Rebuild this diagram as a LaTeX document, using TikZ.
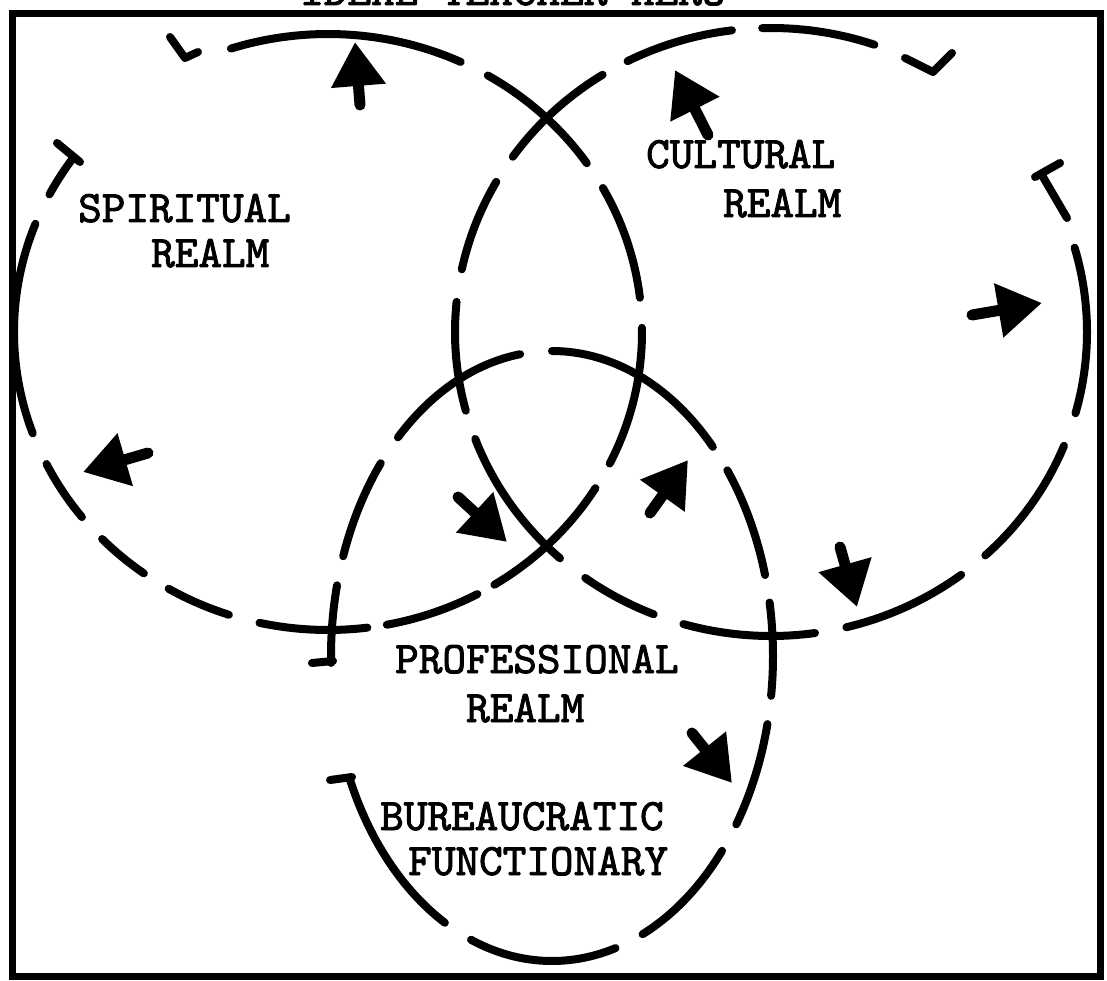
\documentclass[tikz,border=0pt]{standalone}
\usepackage{fontspec}
\newfontfamily\twfont{lmmono10-regular}[Extension=.otf, FakeBold=2]
\usetikzlibrary{arrows.meta}
\tikzset{
  dsh/.style={line width=8pt, line cap=round, line join=round},
  frm/.style={line width=7pt, line join=miter},
  arr/.style={line width=11pt, line cap=round, -{Triangle[length=44pt,width=52pt]}},
  lbl/.style={font=\twfont\fontsize{45}{48}\selectfont, anchor=base west, inner sep=0pt}
}
% elliptic dash: cx cy rx ry t1 t2 (image coordinates, y downwards)
\newcommand{\eseg}[6]{\draw[dsh] plot[domain=#5:#6, samples=30, smooth] ({#1+#3*cos(\x)},{#2+#4*sin(\x)});}
\newcommand{\sdash}[2]{\eseg{328}{332}{314}{298}{#1}{#2}}
\newcommand{\cdash}[2]{\eseg{771}{332}{316}{304}{#1}{#2}}
\newcommand{\pdash}[2]{\eseg{552}{656}{221}{305}{#1}{#2}}
\begin{document}
\begin{tikzpicture}[x=1pt,y=-1pt]
\useasboundingbox (0,0) rectangle (1107,981);
% frame
\draw[frm] (12,14) rectangle (1100,976);
% title (mostly cut off at the top of the picture)
\node[lbl] (title) at (300,5) {IDEAL TEACHER HERO};

% ---- spiritual realm ellipse
\sdash{-108}{-65}
\sdash{-59.4}{-34.5}
\sdash{-28.9}{-6.6}
\sdash{-0.8}{26.2}
\sdash{31.6}{58}
\sdash{61.6}{79.2}
\sdash{82.8}{102.6}
\sdash{108.4}{120.5}
\sdash{125.9}{136}
\sdash{141.6}{153.7}
\sdash{160.1}{201.3}
\sdash{207.5}{215.8}
\draw[dsh] (57,143) -- (80,162);
\draw[dsh] (170,37) -- (185,58) -- (198,52);

% ---- cultural realm ellipse
\cdash{-117}{-97.1}
\cdash{-91.6}{-70.9}
\draw[dsh] (905,58) -- (933,72) -- (952,53);
\draw[dsh] (1035,177) -- (1060,163);
\draw[dsh] (1043,177) -- (1067,218);
\cdash{-16.1}{15.5}
\cdash{22}{47.3}
\cdash{53}{76.2}
\cdash{82}{106.1}
\cdash{111.8}{126}
\cdash{131.9}{159.4}
\cdash{165}{185.7}
\cdash{191.9}{209.6}
\cdash{215.2}{237.8}

% ---- professional realm ellipse
\pdash{225.8}{261.7}
\pdash{199.1}{219.2}
\pdash{178.7}{193.4}
\draw[dsh] (333,661) -- (312,663);
\draw[dsh] (330,780) -- (352,777);
\pdash{119}{156.5}
\pdash{73.3}{111.5}
\pdash{39.7}{65.8}
\pdash{12.9}{33.5}
\pdash{-10.1}{7.5}
\pdash{-37.5}{-15.4}
\pdash{-90}{-43.3}

% ---- arrows
\coordinate (a1t) at (360,105); \coordinate (a1h) at (355,42);
\coordinate (a2t) at (708,135); \coordinate (a2h) at (675,70);
\coordinate (a3t) at (972,315); \coordinate (a3h) at (1042,303);
\coordinate (a4t) at (148,453); \coordinate (a4h) at (83,472);
\coordinate (a5t) at (458,497); \coordinate (a5h) at (507,542);
\coordinate (a6t) at (650,513); \coordinate (a6h) at (688,460);
\coordinate (a7t) at (840,547); \coordinate (a7h) at (857,607);
\coordinate (a8t) at (692,733); \coordinate (a8h) at (732,783);
\foreach \i in {1,...,8} {\draw[arr] (a\i t) -- (a\i h);}

% ---- labels
\node[lbl] (sp1) at (78,222) {SPIRITUAL};
\node[lbl] (sp2) at (151,267) {REALM};
\node[lbl] (cu1) at (646,168) {CULTURAL};
\node[lbl] (cu2) at (723,217) {REALM};
\node[lbl] (pr1) at (395,673) {PROFESSIONAL};
\node[lbl] (pr2) at (466,722) {REALM};
\node[lbl] (bu1) at (380,830) {BUREAUCRATIC};
\node[lbl] (bu2) at (408,875) {FUNCTIONARY};
\end{tikzpicture}
\end{document}
